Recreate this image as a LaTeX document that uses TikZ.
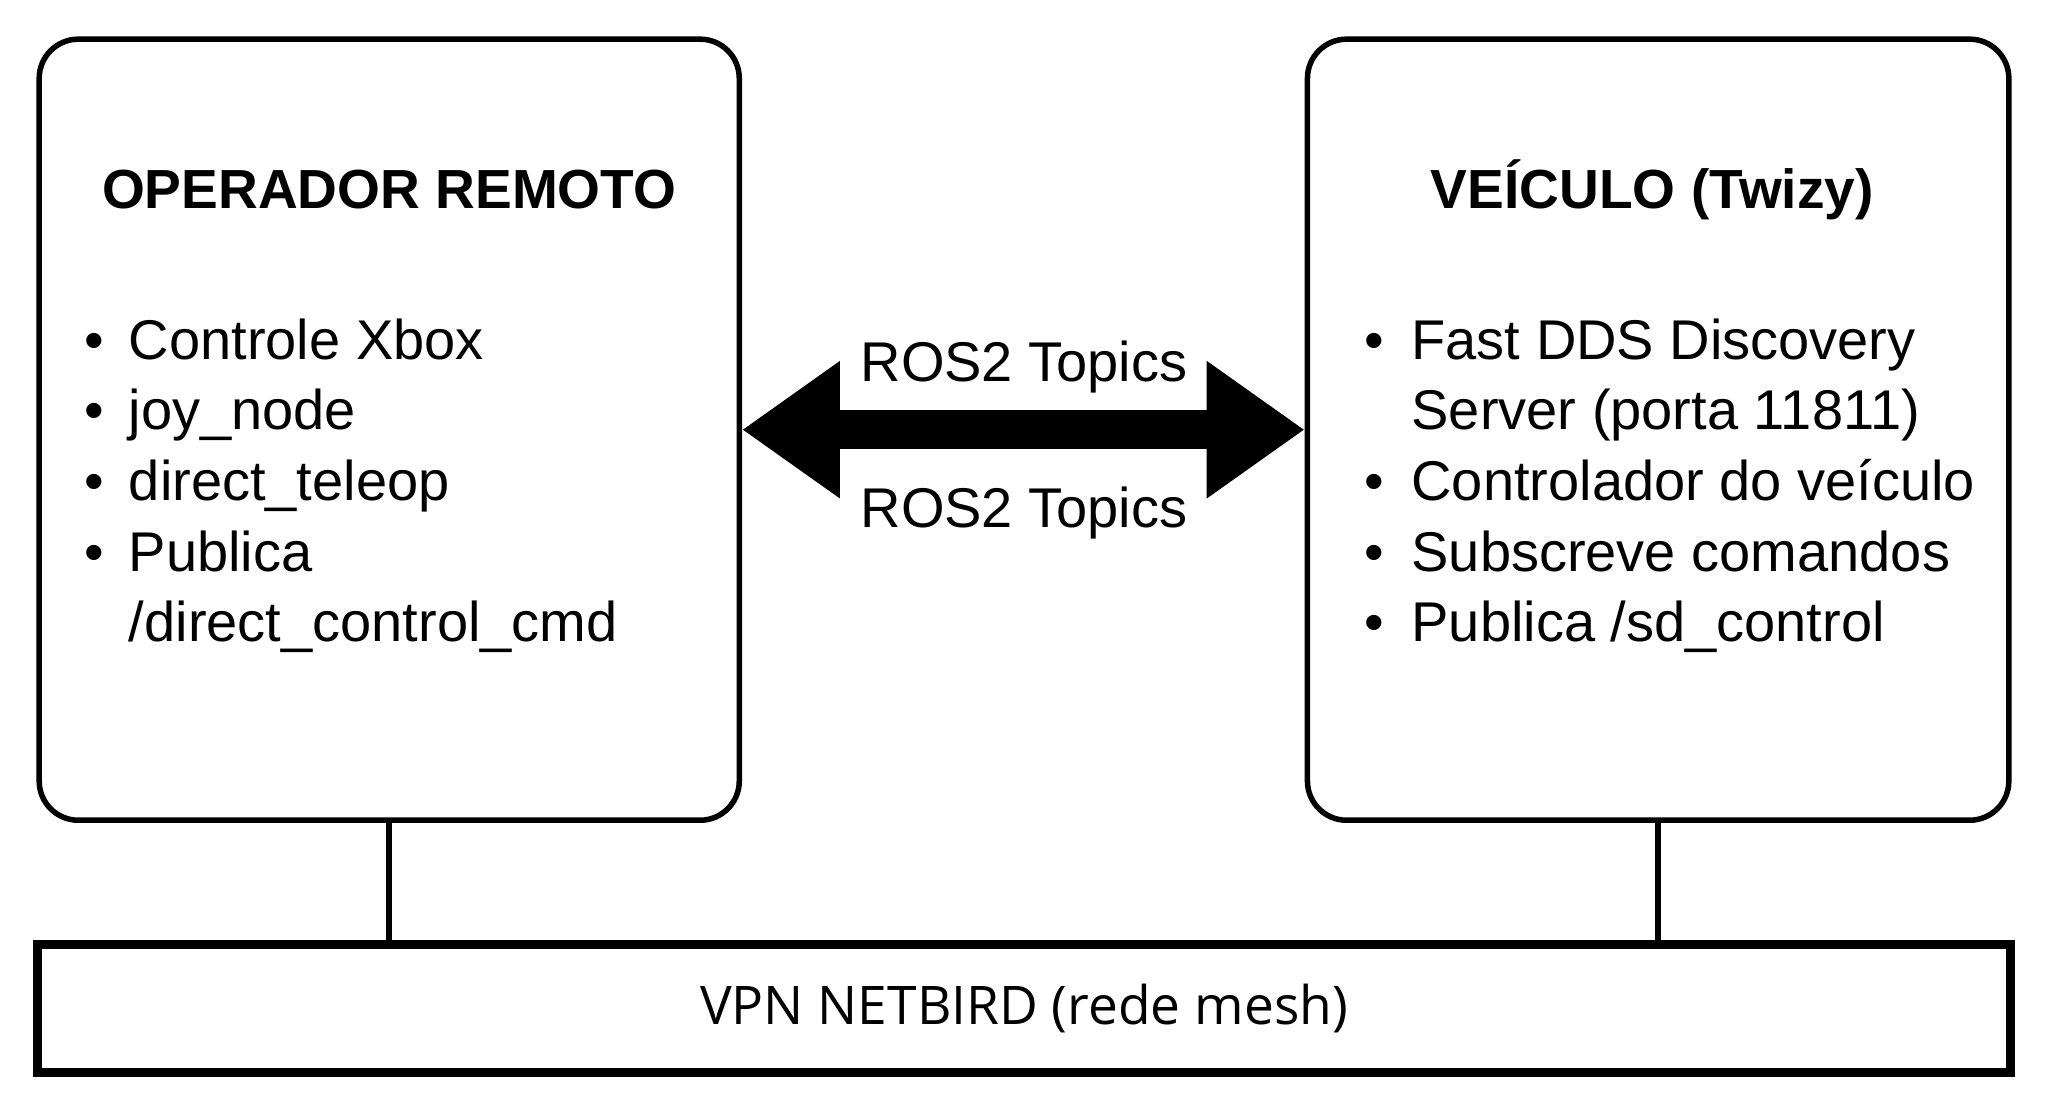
\documentclass[tikz,border=0pt]{standalone}
\usepackage{fontspec}
\setmainfont{Liberation Sans}
\newfontfamily\vpnfont{Open Sans}
\usetikzlibrary{arrows.meta}

\newcommand{\itm}{\textbullet}

\begin{document}
\begin{tikzpicture} [
  caixa/.style=
  {rectangle,rounded corners=0.3cm,draw=black,line width=1.2pt},
  titulo/.style={font=\fontsize{12}{14}\selectfont\bfseries,anchor=base},
  lista/.style={font=\fontsize{12.2}{15.4}\selectfont,anchor=base west,inner sep=0pt},
  rotulo/.style={font=\fontsize{12.2}{15}\selectfont,anchor=base}]
\useasboundingbox (0,0) rectangle (15.68,8.55);
\node [caixa,minimum width=5.36cm,minimum height=5.98cm] (operador) at (2.98,5.26) {};
\node [caixa,minimum width=5.37cm,minimum height=5.98cm] (veiculo) at (12.695,5.26) {};
\node [draw=black,line width=2pt,minimum width=15.1cm,minimum height=0.98cm,
  font=\vpnfont\fontsize{11.6}{14}\selectfont] (vpn) at (7.84,0.83) {VPN NETBIRD (rede mesh)};
\node [titulo] (tOperador) at (2.98,6.95) {OPERADOR REMOTO};
\node [titulo] (tVeiculo) at (12.65,6.95) {VEÍCULO (Twizy)};
\node [lista] (lOperador) at (0.64,5.80) {\begin{tabular}[t]{@{}p{0.34cm}@{}l@{}}
\itm & Controle Xbox\\ \itm & joy\_node\\ \itm & direct\_teleop\\ \itm & Publica\\ & /direct\_control\_cmd
\end{tabular}};
\node [lista] (lVeiculo) at (10.44,5.80) {\begin{tabular}[t]{@{}p{0.36cm}@{}l@{}}
\itm & Fast DDS Discovery\\ & Server (porta 11811)\\ \itm & Controlador do veículo\\ \itm & Subscreve comandos\\ \itm & Publica /sd\_control
\end{tabular}};
\draw [line width=0.3cm,{Triangle[length=0.75cm,width=1cm]}-{Triangle[length=0.75cm,width=1cm]}]
  (operador.east) -- (veiculo.west);
\node [rotulo] (rosCima) at (7.84,5.63) {ROS2 Topics};
\node [rotulo] (rosBaixo) at (7.84,4.51) {ROS2 Topics};
\draw [line width=1.2pt] (operador.south) -- (operador.south |- vpn.north);
\draw [line width=1.2pt] (veiculo.south) -- (veiculo.south |- vpn.north);
\end{tikzpicture}
\end{document}
